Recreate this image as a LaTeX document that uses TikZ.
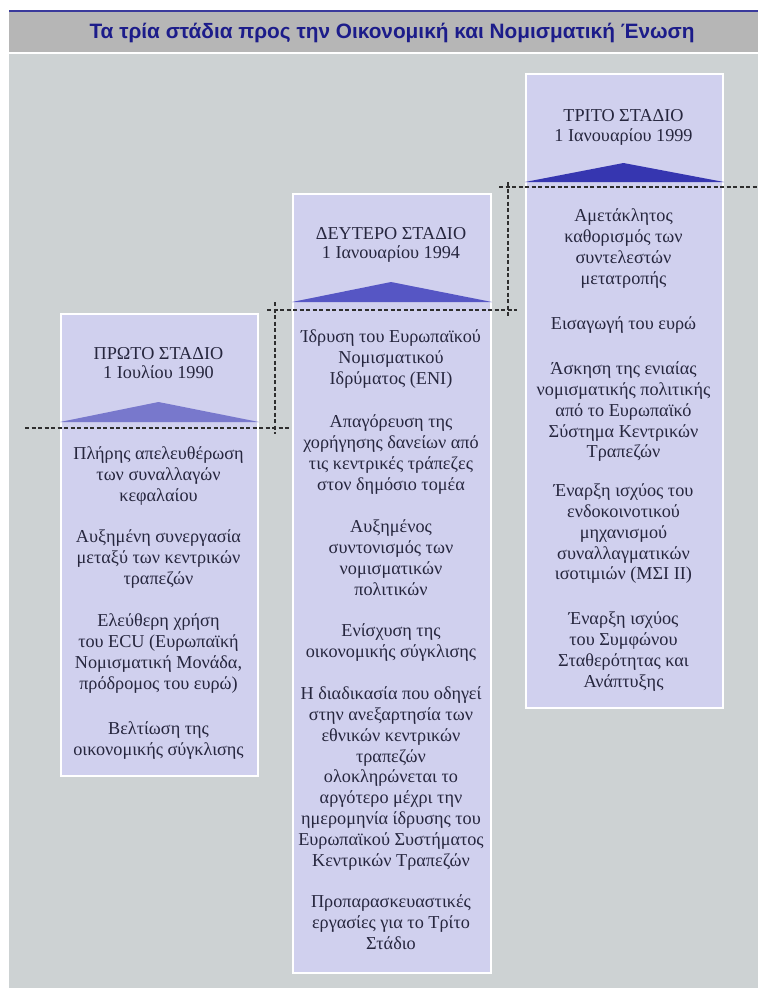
\documentclass[tikz,border=0pt]{standalone}
\usepackage{fontspec}
\setmainfont{Liberation Serif}
\newfontfamily\titlefont{Liberation Sans}
\definecolor{bgc}{HTML}{CDD2D3}
\definecolor{barc}{HTML}{B6B6B6}
\definecolor{linec}{HTML}{3A3A9C}
\definecolor{titlec}{HTML}{1C1C8A}
\definecolor{boxc}{HTML}{D0D0EE}
\definecolor{txtc}{HTML}{26263E}
\definecolor{tri1}{HTML}{7878CC}
\definecolor{tri2}{HTML}{5656C4}
\definecolor{tri3}{HTML}{3636B0}
\definecolor{dashc}{HTML}{2E2E2E}
\tikzset{
  stagebox/.style={draw=white, line width=2pt, fill=boxc, inner sep=0pt, anchor=north west},
  para/.style={anchor=north, inner sep=0pt, align=center, text=txtc,
     font=\fontsize{18.2}{20.8}\selectfont},
  guide/.style={draw=dashc, line width=1.6pt, dash pattern=on 4pt off 2.5pt},
}
\begin{document}
\begin{tikzpicture}[x=1pt,y=-1pt]
\useasboundingbox (0,0) rectangle (758,988);
\fill[white] (0,0) rectangle (758,988);
\fill[bgc] (9,54) rectangle (758,988);
\fill[barc] (9,11) rectangle (758,52);
\fill[linec] (9,10) rectangle (758,11.6);
\node (title) [text=titlec, font=\titlefont\bfseries\fontsize{20.8}{23}\selectfont] at (392,32.5) {Τα τρία στάδια προς την Οικονομική και Νομισματική Ένωση};

% boxes
\node (b1) [stagebox, minimum width=197pt, minimum height=462pt] at (60,313) {};
\node (b2) [stagebox, minimum width=198pt, minimum height=779pt] at (292,193) {};
\node (b3) [stagebox, minimum width=197pt, minimum height=634pt] at (525,73) {};

% triangles
\fill[tri1] (b1.west |- 0,422) -- (158.5,402) -- (b1.east |- 0,422) -- cycle;
\fill[tri2] (b2.west |- 0,302) -- (391,282) -- (b2.east |- 0,302) -- cycle;
\fill[tri3] (b3.west |- 0,182) -- (623.5,163) -- (b3.east |- 0,182) -- cycle;

% headers
\node (h1) [para] at (158.5,345) {\strut ΠΡΩΤΟ ΣΤΑΔΙΟ\\[-2pt]1 Ιουλίου 1990};
\node (h2) [para] at (391,225) {\strut ΔΕΥΤΕΡΟ ΣΤΑΔΙΟ\\[-2pt]1 Ιανουαρίου 1994};
\node (h3) [para] at (623.5,107) {\strut ΤΡΙΤΟ ΣΤΑΔΙΟ\\[-1pt]1 Ιανουαρίου 1999};

% box 1 body
\node (p11) [para] at (158.5,445) {\strut Πλήρης απελευθέρωση\\των συναλλαγών\\κεφαλαίου};
\node (p12) [para] at (158.5,528) {\strut Αυξημένη συνεργασία\\μεταξύ των κεντρικών\\τραπεζών};
\node (p13) [para] at (158.5,612) {\strut Ελεύθερη χρήση\\του ECU (Ευρωπαϊκή\\Νομισματική Μονάδα,\\πρόδρομος του ευρώ)};
\node (p14) [para] at (158.5,720) {\strut Βελτίωση της\\οικονομικής σύγκλισης};

% box 2 body
\node (p21) [para] at (391,328) {\strut Ίδρυση του Ευρωπαϊκού\\Νομισματικού\\Ιδρύματος (ΕΝΙ)};
\node (p22) [para] at (391,413) {\strut Απαγόρευση της\\χορήγησης δανείων από\\τις κεντρικές τράπεζες\\στον δημόσιο τομέα};
\node (p23) [para] at (391,518) {\strut Αυξημένος\\συντονισμός των\\νομισματικών\\πολιτικών};
\node (p24) [para] at (391,622) {\strut Ενίσχυση της\\οικονομικής σύγκλισης};
\node (p25) [para] at (391,685) {\strut Η διαδικασία που οδηγεί\\στην ανεξαρτησία των\\εθνικών κεντρικών\\τραπεζών\\ολοκληρώνεται το\\αργότερο μέχρι την\\ημερομηνία ίδρυσης του\\Ευρωπαϊκού Συστήματος\\Κεντρικών Τραπεζών};
\node (p26) [para] at (391,893) {\strut Προπαρασκευαστικές\\εργασίες για το Τρίτο\\Στάδιο};

% box 3 body
\node (p31) [para] at (623.5,207) {\strut Αμετάκλητος\\καθορισμός των\\συντελεστών\\μετατροπής};
\node (p32) [para] at (623.5,315) {\strut Εισαγωγή του ευρώ};
\node (p33) [para] at (623.5,360) {\strut Άσκηση της ενιαίας\\νομισματικής πολιτικής\\από το Ευρωπαϊκό\\Σύστημα Κεντρικών\\Τραπεζών};
\node (p34) [para] at (623.5,482) {\strut Έναρξη ισχύος του\\ενδοκοινοτικού\\μηχανισμού\\συναλλαγματικών\\ισοτιμιών (ΜΣΙ ΙΙ)};
\node (p35) [para] at (623.5,610) {\strut Έναρξη ισχύος\\του Συμφώνου\\Σταθερότητας και\\Ανάπτυξης};

% dashed guides
\coordinate (h1a) at (25,428);
\coordinate (h1b) at (290,428);
\coordinate (v1a) at (275,302);
\coordinate (v1b) at (275,434);
\coordinate (h2a) at (267,310);
\coordinate (h2b) at (517,310);
\coordinate (v2a) at (508,182);
\coordinate (v2b) at (508,317);
\coordinate (h3a) at (499,187);
\coordinate (h3b) at (758,187);
\draw[guide] (h1a) -- (h1b);
\draw[guide] (v1a) -- (v1b);
\draw[guide] (h2a) -- (h2b);
\draw[guide] (v2a) -- (v2b);
\draw[guide] (h3a) -- (h3b);
\end{tikzpicture}
\end{document}
